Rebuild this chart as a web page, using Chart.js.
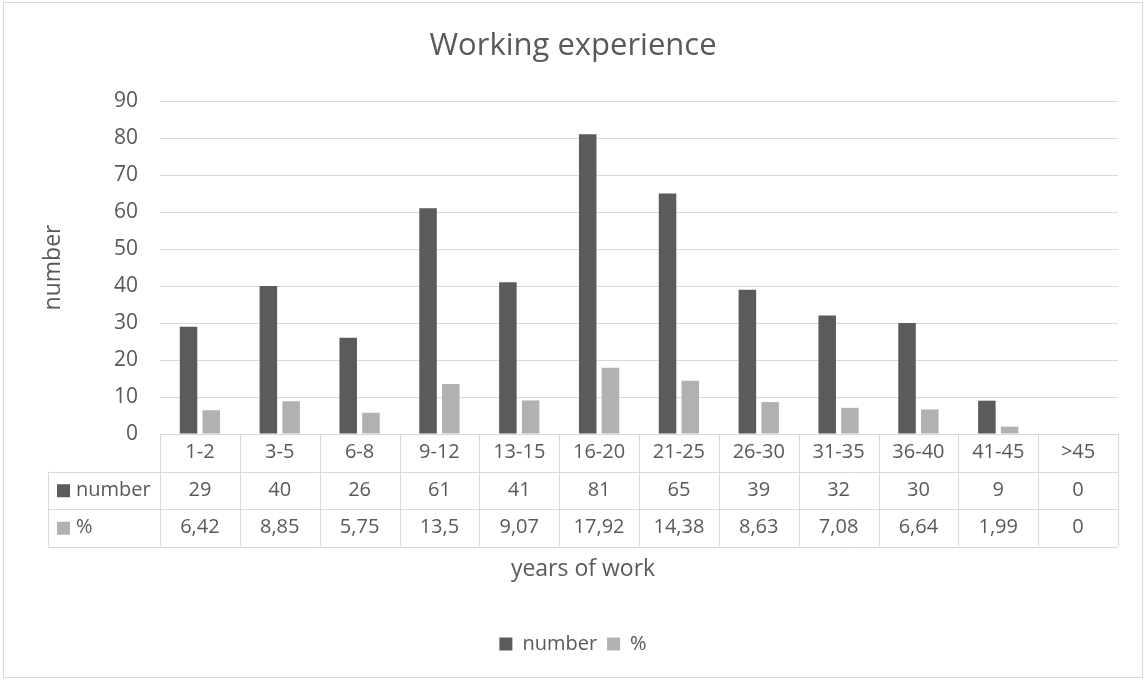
<!DOCTYPE html>
<html>
<head>
<meta charset="utf-8">
<script src="https://cdn.jsdelivr.net/npm/chart.js@4/dist/chart.umd.min.js"></script>
<style>
  html, body { margin: 0; padding: 0; background: #fff; }
  #wrap { width: 1146px; height: 680px; position: relative; }
</style>
</head>
<body>
<div id="wrap"><canvas id="chart"></canvas></div>
<script>
// data
const categories = ['1-2', '3-5', '6-8', '9-12', '13-15', '16-20', '21-25', '26-30', '31-35', '36-40', '41-45', '>45'];
const numberValues = [29, 40, 26, 61, 41, 81, 65, 39, 32, 30, 9, 0];
const pctValues = [6.42, 8.85, 5.75, 13.5, 9.07, 17.92, 14.38, 8.63, 7.08, 6.64, 1.99, 0];
const yTicks = [0, 10, 20, 30, 40, 50, 60, 70, 80, 90];
const xTitle = 'years of work';

const TEXT = '#595959';
const GRID = '#d9d9d9';
const DARK = '#5b5b5b';
const LIGHT = '#b1b1b1';
const FONT = '"Open Sans", "DejaVu Sans", sans-serif';

const fmt = (v) => String(v).replace('.', ',');

// white background + outer frame
const framePlugin = {
  id: 'frame',
  beforeDraw(chart) {
    const { ctx, width, height } = chart;
    ctx.save();
    ctx.fillStyle = '#fff';
    ctx.fillRect(0, 0, width, height);
    ctx.strokeStyle = GRID;
    ctx.lineWidth = 1;
    ctx.strokeRect(3.5, 2.5, width - 7, height - 5);
    ctx.restore();
  },
};

// data table under the plot (categories / number / %) + x axis title
const tablePlugin = {
  id: 'dataTable',
  afterDatasetsDraw(chart) {
    const { ctx, chartArea, scales } = chart;
    const x = scales.x;
    const rowH = 37.5;
    const top = chartArea.bottom;
    const colW = chartArea.width / categories.length;
    const headLeft = 48;
    const rows = [
      { values: categories, color: null, label: null },
      { values: numberValues.map(fmt), color: DARK, label: chart.data.datasets[0].label },
      { values: pctValues.map(fmt), color: LIGHT, label: chart.data.datasets[1].label },
    ];

    ctx.save();
    ctx.strokeStyle = GRID;
    ctx.lineWidth = 1;
    ctx.beginPath();
    const r = Math.round;
    ctx.moveTo(chartArea.left, r(top) + 0.5);
    ctx.lineTo(chartArea.right, r(top) + 0.5);
    for (let i = 1; i <= 3; i++) {
      const y = r(top + rowH * i) + 0.5;
      ctx.moveTo(headLeft, y);
      ctx.lineTo(chartArea.right, y);
    }
    for (let i = 0; i <= categories.length; i++) {
      const xx = r(chartArea.left + colW * i) + 0.5;
      ctx.moveTo(xx, top);
      ctx.lineTo(xx, top + rowH * 3);
    }
    ctx.moveTo(headLeft + 0.5, top + rowH);
    ctx.lineTo(headLeft + 0.5, top + rowH * 3);
    ctx.stroke();

    ctx.fillStyle = TEXT;
    ctx.font = '20px ' + FONT;
    ctx.textAlign = 'center';
    ctx.textBaseline = 'middle';
    rows.forEach((row, ri) => {
      const cy = top + rowH * ri + rowH / 2;
      row.values.forEach((v, i) => {
        ctx.fillText(v, x.getPixelForValue(i), cy);
      });
      if (row.label) {
        ctx.fillStyle = row.color;
        ctx.fillRect(57, cy - 6, 13, 13);
        ctx.fillStyle = TEXT;
        ctx.textAlign = 'left';
        ctx.fillText(row.label, 76, cy);
        ctx.textAlign = 'center';
      }
    });

    // axis title is centred on the table incl. its key column
    ctx.font = '23px ' + FONT;
    ctx.textBaseline = 'alphabetic';
    ctx.fillText(xTitle, (headLeft + chartArea.right) / 2, top + rowH * 3 + 29);
    ctx.restore();
  },
};

new Chart(document.getElementById('chart'), {
  type: 'bar',
  data: {
    labels: categories,
    datasets: [
      { label: 'number', data: numberValues, backgroundColor: DARK },
      { label: '%', data: pctValues, backgroundColor: LIGHT },
    ],
  },
  options: {
    responsive: true,
    maintainAspectRatio: false,
    animation: false,
    devicePixelRatio: 1,
    categoryPercentage: 0.57,
    barPercentage: 0.77,
    layout: { padding: { left: 28, right: 28, top: 0, bottom: 16 } },
    plugins: {
      title: {
        display: true,
        text: 'Working experience',
        color: TEXT,
        font: { family: FONT, size: 31, weight: 'normal' },
        padding: { top: 27.4, bottom: 36.4 },
      },
      legend: {
        position: 'bottom',
        labels: {
          color: TEXT,
          font: { family: FONT, size: 20 },
          boxWidth: 13,
          boxHeight: 13,
          padding: 10,
        },
      },
      tooltip: { enabled: false },
    },
    scales: {
      x: {
        grid: { display: false, drawTicks: false },
        border: { display: false },
        ticks: { display: false },
        afterFit: (axis) => { axis.height = 190; },
      },
      y: {
        min: 0,
        max: 90,
        afterBuildTicks: (axis) => { axis.ticks = yTicks.map((v) => ({ value: v })); },
        grid: { color: GRID, lineWidth: 1, drawTicks: false },
        border: { display: false },
        ticks: { color: TEXT, font: { family: FONT, size: 21 }, padding: 22 },
        title: {
          display: true,
          text: 'number',
          color: TEXT,
          font: { family: FONT, size: 23 },
          padding: { top: 12, bottom: 0 },
        },
        afterFit: (axis) => { axis.width = 132; },
      },
    },
  },
  plugins: [framePlugin, tablePlugin],
});
</script>
</body>
</html>
